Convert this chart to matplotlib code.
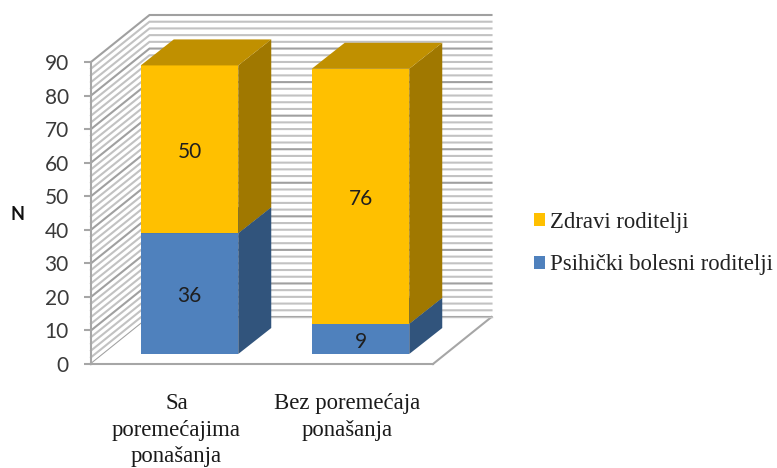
import matplotlib

matplotlib.use("Agg")
import matplotlib.pyplot as plt
import numpy as np
from matplotlib.patches import Patch

categories = ["Sa\nporemećajima\nponašanja", "Bez poremećaja\nponašanja"]
bolesni = [36, 9]
zdravi = [50, 76]
y_ticks = list(range(0, 100, 10))
legend_labels = ["Zdravi roditelji", "Psihički bolesni roditelji"]

W, H = 777, 468
AX_L, AX_R, AX_B, AX_T = 91, 433, 364, 62

YELLOW = ("#FFC000", "#C09000", "#A07800")
BLUE = ("#4F81BD", "#3F6797", "#31547C")
SERIF = "Liberation Serif"
SANS = "Lato"

fig = plt.figure(figsize=(W / 100, H / 100), dpi=100)
ax = fig.add_axes([AX_L / W, 1 - AX_B / H, (AX_R - AX_L) / W, (AX_B - AX_T) / H])
ax.set_xlim(0, 2)
ax.set_ylim(0, 90)

# pixel offsets to data units, for the fake 3d depth
sx = 2 / (AX_R - AX_L)
sy = 90 / (AX_B - AX_T)
WALL_DX, WALL_DY = 58.5 * sx, 47 * sy
GAP_DX, GAP_DY = 13 * sx, 10 * sy
BAR_DX, BAR_DY = 33 * sx, 26 * sy
BAR_W = 97.5 * sx

# walls
for v in np.arange(0, 91, 2):
    major = v % 10 == 0
    color = "#a0a0a0" if major else "#c2c2c2"
    ax.plot(
        [0, WALL_DX, 2 + WALL_DX],
        [v, v + WALL_DY, v + WALL_DY],
        color=color,
        linewidth=1.5,
        clip_on=False,
        zorder=1,
        solid_joinstyle="miter",
    )

# floor
ax.fill(
    [0, 2, 2 + WALL_DX, WALL_DX],
    [0, 0, WALL_DY, WALL_DY],
    facecolor="white",
    edgecolor="none",
    clip_on=False,
    zorder=2,
)
ax.plot([2, 2 + WALL_DX], [0, WALL_DY], color="#a6a6a6", linewidth=1.5, clip_on=False, zorder=2)
ax.plot([WALL_DX, 2 + WALL_DX], [WALL_DY, WALL_DY], color="#c4c4c4", linewidth=1, clip_on=False, zorder=2)


def draw_box(x0, bottom, height, colors, z):
    x1 = x0 + BAR_W
    top = bottom + height
    front, upper, side = colors
    ax.fill([x0, x1, x1, x0], [bottom, bottom, top, top], color=front, lw=0, clip_on=False, zorder=z)
    ax.fill(
        [x1, x1 + BAR_DX, x1 + BAR_DX, x1],
        [bottom, bottom + BAR_DY, top + BAR_DY, top],
        color=side,
        lw=0,
        clip_on=False,
        zorder=z,
    )
    ax.fill(
        [x0, x1, x1 + BAR_DX, x0 + BAR_DX],
        [top, top, top + BAR_DY, top + BAR_DY],
        color=upper,
        lw=0,
        clip_on=False,
        zorder=z,
    )


for i in range(len(categories)):
    x0 = i + 0.5 + GAP_DX - BAR_W / 2
    draw_box(x0, GAP_DY, bolesni[i], BLUE, 3)
    draw_box(x0, GAP_DY + bolesni[i], zdravi[i], YELLOW, 4)
    xc = i + 0.5 + GAP_DX
    for base, value in ((GAP_DY, bolesni[i]), (GAP_DY + bolesni[i], zdravi[i])):
        ax.annotate(str(value), (xc, base + value / 2), xytext=(0, -2), textcoords="offset points",
                    ha="center", va="center", family=SANS, fontsize=15, color="#1f1f1f", zorder=6)

# axes
ax.patch.set_visible(False)
ax.spines["top"].set_visible(False)
ax.spines["right"].set_visible(False)
for name in ("left", "bottom"):
    ax.spines[name].set_color("#a6a6a6")
    ax.spines[name].set_linewidth(1.5)
    ax.spines[name].set_zorder(2.5)
ax.set_yticks(y_ticks)
ax.tick_params(axis="y", length=5, width=1.5, color="#a6a6a6", pad=11, labelsize=15, labelcolor="#3a3a3a")
for label in ax.get_yticklabels():
    label.set_family(SANS)
ax.set_xticks([0.5, 1.5])
ax.set_xticklabels(categories, family=SERIF, fontsize=16.4, color="#1a1a1a", linespacing=1.35)
ax.tick_params(axis="x", length=0, pad=21)

ax.text(-73 / (AX_R - AX_L), (AX_B - 214) / (AX_B - AX_T), "N", transform=ax.transAxes, ha="center", va="center",
        family=SANS, fontweight="bold", fontsize=13, color="#111111")

handles = [Patch(facecolor=YELLOW[0]), Patch(facecolor=BLUE[0])]
fig.legend(
    handles,
    legend_labels,
    loc="center left",
    bbox_to_anchor=(534 / W, 1 - 243.5 / H),
    frameon=False,
    prop={"family": SERIF, "size": 16.4},
    handlelength=0.5,
    handleheight=0.5,
    handletextpad=0.22,
    labelspacing=0.95,
    borderpad=0,
    borderaxespad=0,
    labelcolor="#222222",
)

fig.savefig("out.png", dpi=100)
plt.close(fig)
